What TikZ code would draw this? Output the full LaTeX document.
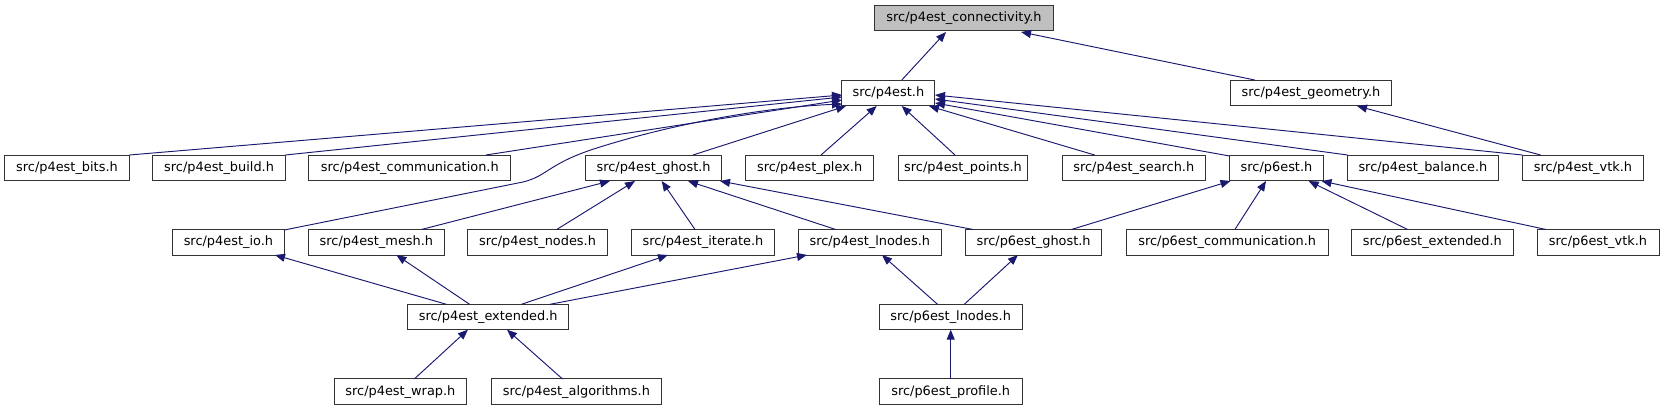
\documentclass[tikz,border=0pt]{standalone}
\usepackage{fontspec}
\setmainfont{DejaVu Sans}
\usetikzlibrary{arrows.meta}
\definecolor{edgeblue}{HTML}{191970}
\definecolor{rootgray}{HTML}{BFBFBF}
\tikzset{
  filebox/.style={draw=black!80, line width=1pt, fill=white, inner sep=0pt,
    minimum height=25.5pt, font=\fontsize{12.9}{15}\selectfont},
  rootbox/.style={filebox, fill=rootgray},
  dep/.style={draw=edgeblue, line width=0.95pt, -{Triangle[length=10pt,width=8pt,fill=edgeblue]}},
}
\newcommand{\sh}[3]{([shift={(#1,#2)}]#3.center)}
\begin{document}
\begin{tikzpicture}[x=1pt,y=-1pt]
\useasboundingbox (0,0) rectangle (1664,411);
% row 0
\node[rootbox, minimum width=179pt] (conn) at (964,18) {src/p4est\_connectivity.h};
% row 1
\node[filebox, minimum width=93pt] (p4est) at (888.4,93) {src/p4est.h};
\node[filebox, minimum width=161.5pt] (geom) at (1311,93) {src/p4est\_geometry.h};
% row 2
\node[filebox, minimum width=124.7pt] (bits) at (67,168) {src/p4est\_bits.h};
\node[filebox, minimum width=132.5pt] (build) at (219.1,168) {src/p4est\_build.h};
\node[filebox, minimum width=201.8pt] (comm) at (409.8,168) {src/p4est\_communication.h};
\node[filebox, minimum width=135.7pt] (ghost) at (653.6,168) {src/p4est\_ghost.h};
\node[filebox, minimum width=127.9pt] (plex) at (809.6,168) {src/p4est\_plex.h};
\node[filebox, minimum width=129.7pt] (points) at (963,168) {src/p4est\_points.h};
\node[filebox, minimum width=142.5pt] (search) at (1133.8,168) {src/p4est\_search.h};
\node[filebox, minimum width=93.9pt] (p6est) at (1276.5,168) {src/p6est.h};
\node[filebox, minimum width=150.7pt] (balance) at (1422.9,168) {src/p4est\_balance.h};
\node[filebox, minimum width=121.6pt] (vtk) at (1583,168) {src/p4est\_vtk.h};
% row 3
\node[filebox, minimum width=111.8pt] (io) at (228.4,242.3) {src/p4est\_io.h};
\node[filebox, minimum width=136.4pt] (mesh) at (376.4,242.3) {src/p4est\_mesh.h};
\node[filebox, minimum width=139.3pt] (nodes) at (537.5,242.3) {src/p4est\_nodes.h};
\node[filebox, minimum width=142.5pt] (iterate) at (703,242.3) {src/p4est\_iterate.h};
\node[filebox, minimum width=143.2pt] (p4lnodes) at (869.8,242.3) {src/p4est\_lnodes.h};
\node[filebox, minimum width=136.4pt] (p6ghost) at (1033.6,242.3) {src/p6est\_ghost.h};
\node[filebox, minimum width=201.8pt] (p6comm) at (1227.2,242.3) {src/p6est\_communication.h};
\node[filebox, minimum width=161.9pt] (p6ext) at (1432.4,242.3) {src/p6est\_extended.h};
\node[filebox, minimum width=122pt] (p6vtk) at (1598,242.3) {src/p6est\_vtk.h};
% row 4
\node[filebox, minimum width=160.7pt] (p4ext) at (488.2,317) {src/p4est\_extended.h};
\node[filebox, minimum width=142.8pt] (p6lnodes) at (950.7,317) {src/p6est\_lnodes.h};
% row 5
\node[filebox, minimum width=132.1pt] (wrap) at (400.4,391.7) {src/p4est\_wrap.h};
\node[filebox, minimum width=170.7pt] (alg) at (576.4,391.7) {src/p4est\_algorithms.h};
\node[filebox, minimum width=142.8pt] (profile) at (950.7,391.7) {src/p6est\_profile.h};
% edges
\draw[dep] \sh{13.4}{-13}{p4est} -- \sh{-18}{14}{conn};
\draw[dep] \sh{-56.3}{-13}{geom} -- \sh{57}{14}{conn};
\draw[dep] \sh{62.3}{-13}{bits} -- \sh{-46.4}{2}{p4est};
\draw[dep] \sh{66.3}{-13}{build} -- \sh{-46.4}{4}{p4est};
\draw[dep] \sh{76.2}{-13}{comm} -- \sh{-46.4}{7}{p4est};
\draw[dep] \sh{56}{-12.3}{io} -- (523,182) .. controls (548,176) and (548,163) .. (600,147) .. controls (680,122) and (770,107) .. \sh{-46.4}{11}{p4est};
\draw[dep] \sh{39.4}{-13}{ghost} -- \sh{-42.4}{13}{p4est};
\draw[dep] \sh{11.4}{-13}{plex} -- \sh{-11.7}{13}{p4est};
\draw[dep] \sh{-8}{-13}{points} -- \sh{13.3}{13}{p4est};
\draw[dep] \sh{-39.2}{-13}{search} -- \sh{40.6}{13}{p4est};
\draw[dep] \sh{-47}{-12}{p6est} -- \sh{46.6}{10}{p4est};
\draw[dep] \sh{-75.4}{-13}{balance} -- \sh{46.6}{6}{p4est};
\draw[dep] \sh{-60.7}{-13}{vtk} -- \sh{46.6}{2}{p4est};
\draw[dep] \sh{-42.4}{-13}{vtk} -- \sh{46}{13}{geom};
\draw[dep] \sh{45}{-12.8}{mesh} -- \sh{-43.6}{13}{ghost};
\draw[dep] \sh{19.2}{-12.8}{nodes} -- \sh{-18.6}{13}{ghost};
\draw[dep] \sh{-8}{-12.8}{iterate} -- \sh{8.1}{13}{ghost};
\draw[dep] \sh{-34.1}{-12.8}{p4lnodes} -- \sh{34.4}{13}{ghost};
\draw[dep] \sh{-60.6}{-12.8}{p6ghost} -- \sh{66.4}{13}{ghost};
\draw[dep] \sh{37.8}{-12.8}{p6ghost} -- \sh{-46}{13}{p6est};
\draw[dep] \sh{7.7}{-12.8}{p6comm} -- \sh{-10.5}{13}{p6est};
\draw[dep] \sh{-24.8}{-12.8}{p6ext} -- \sh{32.1}{13}{p6est};
\draw[dep] \sh{-52}{-12.8}{p6vtk} -- \sh{45}{13}{p6est};
\draw[dep] \sh{-41.8}{-12.7}{p4ext} -- \sh{46.6}{12.7}{io};
\draw[dep] \sh{-18.6}{-12.7}{p4ext} -- \sh{20}{12.7}{mesh};
\draw[dep] \sh{33.2}{-12.7}{p4ext} -- \sh{-35.1}{12.7}{iterate};
\draw[dep] \sh{61.8}{-12.7}{p4ext} -- \sh{-62.8}{12.7}{p4lnodes};
\draw[dep] \sh{-13.2}{-12.7}{p6lnodes} -- \sh{12.2}{12.7}{p4lnodes};
\draw[dep] \sh{13.6}{-12.7}{p6lnodes} -- \sh{-15.7}{12.7}{p6ghost};
\draw[dep] \sh{13.9}{-12.7}{wrap} -- \sh{-20.3}{12.7}{p4ext};
\draw[dep] \sh{-13.9}{-12.7}{alg} -- \sh{18.8}{12.7}{p4ext};
\draw[dep] \sh{0}{-12.7}{profile} -- \sh{0}{12.7}{p6lnodes};
\end{tikzpicture}
\end{document}
